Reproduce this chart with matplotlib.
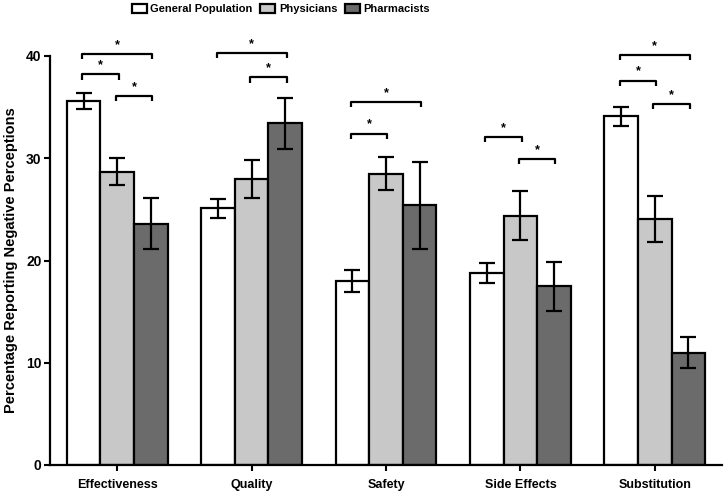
import matplotlib
matplotlib.use("Agg")
import matplotlib.pyplot as plt
import numpy as np

plt.rcParams['font.family'] = ['Liberation Sans', 'DejaVu Sans']
plt.rcParams['font.weight'] = 'bold'

categories = ["Effectiveness", "Quality", "Safety", "Side Effects", "Substitution"]
series_names = ["General Population", "Physicians", "Pharmacists"]
general_population = [35.6, 25.1, 18.0, 18.8, 34.1]
general_population_err = [0.8, 0.9, 1.05, 1.0, 0.9]
physicians = [28.7, 28.0, 28.5, 24.4, 24.1]
physicians_err = [1.3, 1.85, 1.65, 2.35, 2.25]
pharmacists = [23.6, 33.4, 25.4, 17.5, 11.0]
pharmacists_err = [2.5, 2.45, 4.25, 2.4, 1.55]
yticks = [0, 10, 20, 30, 40]

# significance brackets: (category index, series a, series b, y level)
brackets = [
    (0, 0, 2, 40.2), (0, 0, 1, 38.2), (0, 1, 2, 36.1),
    (1, 0, 2, 40.3), (1, 1, 2, 37.9),
    (2, 0, 2, 35.5), (2, 0, 1, 32.4),
    (3, 0, 1, 32.1), (3, 1, 2, 29.9),
    (4, 0, 2, 40.1), (4, 0, 1, 37.6), (4, 1, 2, 35.3),
]

colors = ["#ffffff", "#c8c8c8", "#6b6b6b"]
values = [general_population, physicians, pharmacists]
errors = [general_population_err, physicians_err, pharmacists_err]

fig = plt.figure(figsize=(7.25, 4.93), dpi=100)
ax = fig.add_axes([50/725, 1-465/493, (722-50)/725, (465-56)/493])

x = np.arange(len(categories))
w = 0.25
offsets = [-w, 0, w]
handles = []
for i in range(3):
    b = ax.bar(x + offsets[i], values[i], w, color=colors[i], edgecolor='black',
               linewidth=1.6, label=series_names[i], zorder=2)
    ax.errorbar(x + offsets[i], values[i], yerr=errors[i], fmt='none', ecolor='black',
                elinewidth=1.6, capsize=6, capthick=1.6, zorder=3)
    handles.append(b)

drop = 0.5
for ci, a, bb, y in brackets:
    x1 = ci + offsets[a] - 0.01
    x2 = ci + offsets[bb] + 0.01
    ax.plot([x1, x1, x2, x2], [y - drop, y, y, y - drop], color='black', lw=1.6,
            clip_on=False, zorder=4, solid_capstyle='butt')
    ax.text((x1 + x2) / 2, y + 0.3, "*", ha='center', va='bottom', fontsize=9,
            fontweight='bold', clip_on=False)

ax.set_xlim(-0.5, 4.5)
ax.set_ylim(0, 40)
ax.set_yticks(yticks)
ax.set_xticks(x)
ax.set_xticklabels(categories, fontsize=9, fontweight='bold')
ax.tick_params(axis='x', length=4, width=1.5, pad=6)
ax.tick_params(axis='y', length=4, width=1.5, labelsize=10, pad=2)
for lab in ax.get_yticklabels():
    lab.set_fontweight('bold')
ax.set_ylabel("Percentage Reporting Negative Perceptions", fontsize=10.5,
              fontweight='bold', labelpad=6)
for s in ['top', 'right']:
    ax.spines[s].set_visible(False)
for s in ['left', 'bottom']:
    ax.spines[s].set_linewidth(1.6)

fig.legend(handles=handles, labels=series_names, loc='center',
           bbox_to_anchor=(281/725, 1 - 9/493), ncol=3, frameon=False,
           prop={'weight': 'bold', 'size': 8},
           handlelength=1.35, handleheight=0.9,
           columnspacing=0.7, handletextpad=0.3, borderpad=0.1)

fig.savefig("out.png", dpi=100)
